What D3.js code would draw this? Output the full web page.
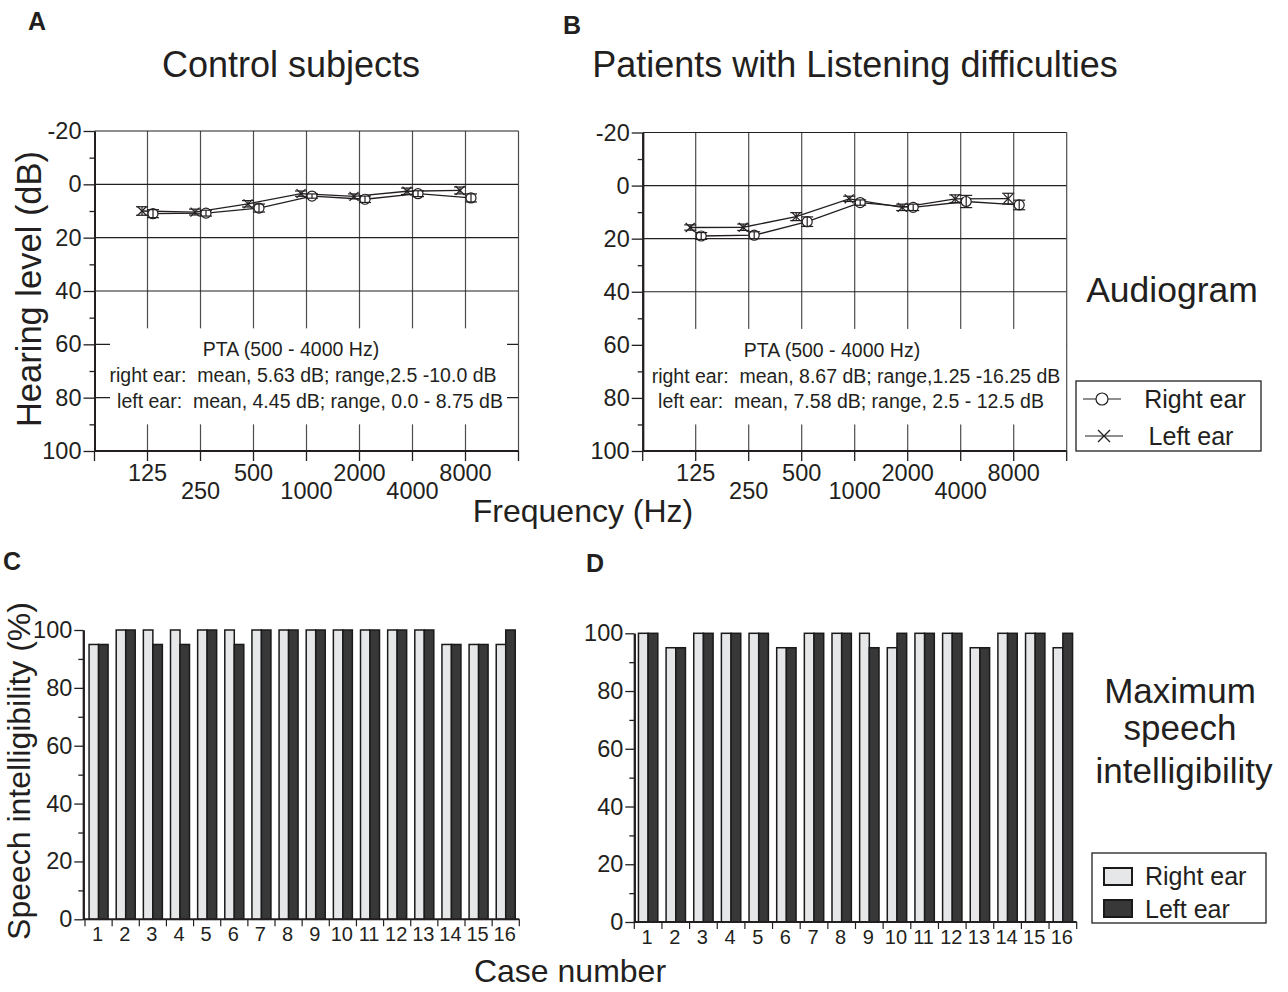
<!DOCTYPE html>
<html>
<head>
<meta charset="utf-8">
<script src="https://cdn.jsdelivr.net/npm/d3@7"></script>
<style>
body { margin: 0; background: #fff; }
svg text { font-family: "Liberation Sans", Arial, sans-serif; fill: #231f20; }
</style>
</head>
<body>
<div class="canvas"></div>
<script>
// ---- data ----
const freqs = [125, 250, 500, 1000, 2000, 4000, 8000]
const upperFreqLabels = [125, 500, 2000, 8000]

// control subjects, mean hearing level (dB)
const controlRight = [11, 10.8, 8.9, 4.4, 5.6, 3.5, 5.1]
const controlRightErr = [1.5, 1.1, 1.5, 0.8, 1.2, 1.1, 1.5]
const controlLeft = [10, 10.4, 7.3, 3.5, 4.5, 2.6, 2.3]
const controlLeftErr = [1.6, 1.1, 1.2, 1.0, 0.9, 1.2, 1.3]

// patients with listening difficulties
const patientRight = [19, 18.7, 13.6, 6.4, 8.2, 6.0, 7.3]
const patientRightErr = [1.3, 1.3, 1.8, 1.0, 1.2, 2.3, 1.8]
const patientLeft = [15.8, 15.7, 11.7, 5.0, 8.2, 5.0, 4.9]
const patientLeftErr = [1.0, 1.2, 1.5, 1.0, 1.2, 1.5, 2.0]

const ptaControl = ["PTA (500 - 4000 Hz)",
  "right ear:  mean, 5.63 dB; range,2.5 -10.0 dB",
  "left ear:  mean, 4.45 dB; range, 0.0 - 8.75 dB"]
const ptaPatient = ["PTA (500 - 4000 Hz)",
  "right ear:  mean, 8.67 dB; range,1.25 -16.25 dB",
  "left ear:  mean, 7.58 dB; range, 2.5 - 12.5 dB"]

// maximum speech intelligibility (%)
const cases = d3.range(1, 17)
const controlSpeechRight = [95, 100, 100, 100, 100, 100, 100, 100, 100, 100, 100, 100, 100, 95, 95, 95]
const controlSpeechLeft  = [95, 100, 95, 95, 100, 95, 100, 100, 100, 100, 100, 100, 100, 95, 95, 100]
const patientSpeechRight = [100, 95, 100, 100, 100, 95, 100, 100, 100, 95, 100, 100, 95, 100, 100, 95]
const patientSpeechLeft  = [100, 95, 100, 100, 100, 95, 100, 100, 95, 100, 100, 100, 95, 100, 100, 100]

const ink = "#231f20"
const lightFill = "#e6e7e8"
const darkFill = "#383838"

const svg = d3.select(".canvas").append("svg")
    .attr("width", 1288)
    .attr("height", 992)

function styleAxis(sel, size) {
    sel.select(".domain").attr("stroke", ink).attr("stroke-width", 2)
    sel.selectAll(".tick line").attr("stroke", ink).attr("stroke-width", 1.3)
    sel.selectAll(".tick text").attr("font-size", size).attr("fill", ink)
        .attr("font-family", '"Liberation Sans", Arial, sans-serif')
}

function drawX(g, cx, cy, r) {
    g.append("line").attr("x1", cx - r).attr("x2", cx + r).attr("y1", cy - r).attr("y2", cy + r)
    g.append("line").attr("x1", cx - r).attr("x2", cx + r).attr("y1", cy + r).attr("y2", cy - r)
}

function audiogram(o) {
    const x = d3.scalePoint().domain(freqs).range([o.left, o.right]).padding(1)
    const y = d3.scaleLinear().domain([-20, 100]).range([o.top, o.bottom])
    const g = svg.append("g")

    // grid
    g.selectAll(".vgrid").data(freqs).enter().append("line")
        .attr("x1", d => x(d)).attr("x2", d => x(d))
        .attr("y1", o.top).attr("y2", o.bottom)
        .attr("stroke", "#4d4d4d").attr("stroke-width", 1.2)
    g.selectAll(".hgrid").data([-20, 0, 20, 40, 60, 80]).enter().append("line")
        .attr("x1", o.left).attr("x2", o.right)
        .attr("y1", d => y(d)).attr("y2", d => y(d))
        .attr("stroke", ink).attr("stroke-width", 1.2)
    g.append("line")
        .attr("x1", o.right).attr("x2", o.right).attr("y1", o.top).attr("y2", o.bottom)
        .attr("stroke", "#4d4d4d").attr("stroke-width", 1.2)

    // PTA text box
    g.append("rect")
        .attr("x", o.boxLeft).attr("width", o.boxRight - o.boxLeft)
        .attr("y", y(54)).attr("height", y(90) - y(54))
        .attr("fill", "#fff")
    g.selectAll(".pta").data(o.pta).enter().append("text")
        .attr("x", (d, i) => o.ptaX[i])
        .attr("y", (d, i) => y(64.5) + i * 25.8)
        .attr("text-anchor", "middle")
        .attr("font-size", 19.5)
        .style("white-space", "pre")
        .text(d => d)

    // y axis
    const yAxis = g.append("g").attr("transform", `translate(${o.left},0)`)
        .call(d3.axisLeft(y).tickValues(d3.range(-20, 101, 20)).tickSize(11).tickSizeOuter(0)
            .tickPadding(2).tickFormat(d => String(d)))
    styleAxis(yAxis, 23.5)
    const yMinor = g.append("g").attr("transform", `translate(${o.left},0)`)
        .call(d3.axisLeft(y).tickValues(d3.range(-10, 100, 20)).tickSize(5).tickSizeOuter(0).tickFormat(""))
    styleAxis(yMinor, 23.5)

    // x axis (bottom edge)
    g.append("line")
        .attr("x1", o.left).attr("x2", o.right).attr("y1", y(100)).attr("y2", y(100))
        .attr("stroke", ink).attr("stroke-width", 2)
    const edges = d3.range(freqs.length + 2).map(i => o.left + i * x.step())
    g.selectAll(".xtick").data(edges).enter().append("line")
        .attr("x1", d => d).attr("x2", d => d)
        .attr("y1", y(100)).attr("y2", y(100) + 10)
        .attr("stroke", ink).attr("stroke-width", 1.3)
    g.selectAll(".xlab").data(freqs).enter().append("text")
        .attr("x", d => x(d))
        .attr("y", d => y(100) + (upperFreqLabels.includes(d) ? 30 : 48))
        .attr("text-anchor", "middle")
        .attr("font-size", 23.5)
        .text(d => d)

    // series
    const series = [
        { vals: o.left_, err: o.leftErr, off: -5.5, mark: "x" },
        { vals: o.right_, err: o.rightErr, off: 5.5, mark: "o" }
    ]
    series.forEach(s => {
        const pts = freqs.map((f, i) => ({ f: f, v: s.vals[i], e: s.err[i] }))
        g.append("path")
            .attr("d", d3.line().x(d => x(d.f) + s.off).y(d => y(d.v))(pts))
            .attr("fill", "none").attr("stroke", ink).attr("stroke-width", 1.3)
        const m = g.append("g").attr("stroke", ink).attr("stroke-width", 1.2)
        pts.forEach(p => {
            const cx = x(p.f) + s.off, cy = y(p.v)
            if (s.mark === "o") {
                m.append("circle").attr("cx", cx).attr("cy", cy).attr("r", 5).attr("fill", "#fff")
            } else {
                drawX(m, cx, cy, 4.5)
            }
            m.append("line").attr("x1", cx).attr("x2", cx).attr("y1", y(p.v - p.e)).attr("y2", y(p.v + p.e))
            m.append("line").attr("x1", cx - 6).attr("x2", cx + 6).attr("y1", y(p.v - p.e)).attr("y2", y(p.v - p.e))
            m.append("line").attr("x1", cx - 6).attr("x2", cx + 6).attr("y1", y(p.v + p.e)).attr("y2", y(p.v + p.e))
        })
    })
}

function speechBars(o) {
    const x = d3.scaleBand().domain(cases).range([o.left, o.right]).paddingInner(0.3).paddingOuter(0.15)
    const sub = d3.scaleBand().domain(["right", "left"]).range([0, x.bandwidth()])
    const y = d3.scaleLinear().domain([0, 100]).range([o.bottom, o.top])
    const g = svg.append("g")

    const rows = cases.map((c, i) => ({ c: c, right: o.right_[i], left: o.left_[i] }))
    ;["right", "left"].forEach(k => {
        g.selectAll(".bar-" + k).data(rows).enter().append("rect")
            .attr("x", d => x(d.c) + sub(k))
            .attr("y", d => y(d[k]))
            .attr("width", sub.bandwidth())
            .attr("height", d => y(0) - y(d[k]))
            .attr("fill", k === "right" ? lightFill : darkFill)
            .attr("stroke", "#1a1a1a").attr("stroke-width", 1.5)
    })

    const yAxis = g.append("g").attr("transform", `translate(${o.axisX},0)`)
        .call(d3.axisLeft(y).tickValues(d3.range(0, 101, 20)).tickSize(9).tickSizeOuter(0).tickPadding(2))
    styleAxis(yAxis, 23.5)
    const yMinor = g.append("g").attr("transform", `translate(${o.axisX},0)`)
        .call(d3.axisLeft(y).tickValues(d3.range(10, 100, 20)).tickSize(5).tickSizeOuter(0).tickFormat(""))
    styleAxis(yMinor, 23.5)

    g.append("line")
        .attr("x1", o.axisX).attr("x2", o.right).attr("y1", y(0)).attr("y2", y(0))
        .attr("stroke", ink).attr("stroke-width", 2)
    const edges = d3.range(cases.length + 1).map(i => o.left + i * x.step())
    g.selectAll(".xtick").data(edges).enter().append("line")
        .attr("x1", d => d).attr("x2", d => d)
        .attr("y1", y(0)).attr("y2", y(0) + 7)
        .attr("stroke", ink).attr("stroke-width", 1.2)
    g.selectAll(".xlab").data(cases).enter().append("text")
        .attr("x", d => x(d) + x.bandwidth() / 2 - 1)
        .attr("y", y(0) + 22)
        .attr("text-anchor", "middle")
        .attr("font-size", 20)
        .style("font-family", '"Liberation Sans Narrow", "Arial Narrow", sans-serif')
        .text(d => d)
}

audiogram({
    left: 94.5, right: 518.5, top: 131, bottom: 451,
    boxLeft: 110, boxRight: 507, ptaX: [291, 303, 310], pta: ptaControl,
    left_: controlLeft, leftErr: controlLeftErr, right_: controlRight, rightErr: controlRightErr
})
audiogram({
    left: 642.7, right: 1066.7, top: 132.5, bottom: 451,
    boxLeft: 644, boxRight: 1066, ptaX: [832, 856, 851], pta: ptaPatient,
    left_: patientLeft, leftErr: patientLeftErr, right_: patientRight, rightErr: patientRightErr
})
speechBars({
    axisX: 83.3, left: 85, right: 519.3, top: 630, bottom: 919.3,
    right_: controlSpeechRight, left_: controlSpeechLeft
})
speechBars({
    axisX: 634.3, left: 634.3, right: 1076.7, top: 633.3, bottom: 922,
    right_: patientSpeechRight, left_: patientSpeechLeft
})

// ---- texts ----
const label = (t, x, y, size, opts = {}) => svg.append("text")
    .attr("x", x).attr("y", y).attr("font-size", size)
    .attr("text-anchor", opts.anchor || "middle")
    .attr("font-weight", opts.bold ? "bold" : null)
    .attr("transform", opts.rotate ? `rotate(-90,${x},${y})` : null)
    .text(t)

label("A", 37, 30, 25, { bold: true })
label("B", 572, 34, 25, { bold: true })
label("C", 12, 570, 25, { bold: true })
label("D", 595, 572, 25, { bold: true })
label("Control subjects", 291, 77, 36)
label("Patients with Listening difficulties", 855, 77, 36)
label("Hearing level (dB)", 41, 289, 34.5, { rotate: true })
label("Frequency (Hz)", 583, 522, 32)
label("Audiogram", 1172, 302, 35.5)
label("Speech intelligibility (%)", 30, 771, 32, { rotate: true })
label("Case number", 570, 982, 32)
label("Maximum", 1180, 703, 35)
label("speech", 1180, 740, 35)
label("intelligibility", 1184, 783, 35)

// legend: audiogram
const lg1 = svg.append("g")
lg1.append("rect").attr("x", 1076).attr("y", 381).attr("width", 185).attr("height", 70)
    .attr("fill", "#fff").attr("stroke", ink).attr("stroke-width", 1.3)
const legMarks = lg1.append("g").attr("stroke", ink).attr("stroke-width", 1.2)
legMarks.append("line").attr("x1", 1083).attr("x2", 1121).attr("y1", 399).attr("y2", 399)
legMarks.append("circle").attr("cx", 1102).attr("cy", 399).attr("r", 6).attr("fill", "#fff")
legMarks.append("line").attr("x1", 1085).attr("x2", 1123).attr("y1", 436).attr("y2", 436)
drawX(legMarks, 1104, 436, 6)
lg1.append("text").attr("x", 1195).attr("y", 408).attr("font-size", 25).attr("text-anchor", "middle").text("Right ear")
lg1.append("text").attr("x", 1191).attr("y", 445).attr("font-size", 25).attr("text-anchor", "middle").text("Left ear")

// legend: speech bars
const lg2 = svg.append("g")
lg2.append("rect").attr("x", 1092).attr("y", 853).attr("width", 174).attr("height", 70)
    .attr("fill", "#fff").attr("stroke", ink).attr("stroke-width", 1.3)
;[["Right ear", lightFill], ["Left ear", darkFill]].forEach((d, i) => {
    lg2.append("rect").attr("x", 1104).attr("y", 868 + i * 32).attr("width", 28).attr("height", 17)
        .attr("fill", d[1]).attr("stroke", "#1a1a1a").attr("stroke-width", 2)
    lg2.append("text").attr("x", 1145).attr("y", 885 + i * 33).attr("font-size", 25).text(d[0])
})
</script>
</body>
</html>
